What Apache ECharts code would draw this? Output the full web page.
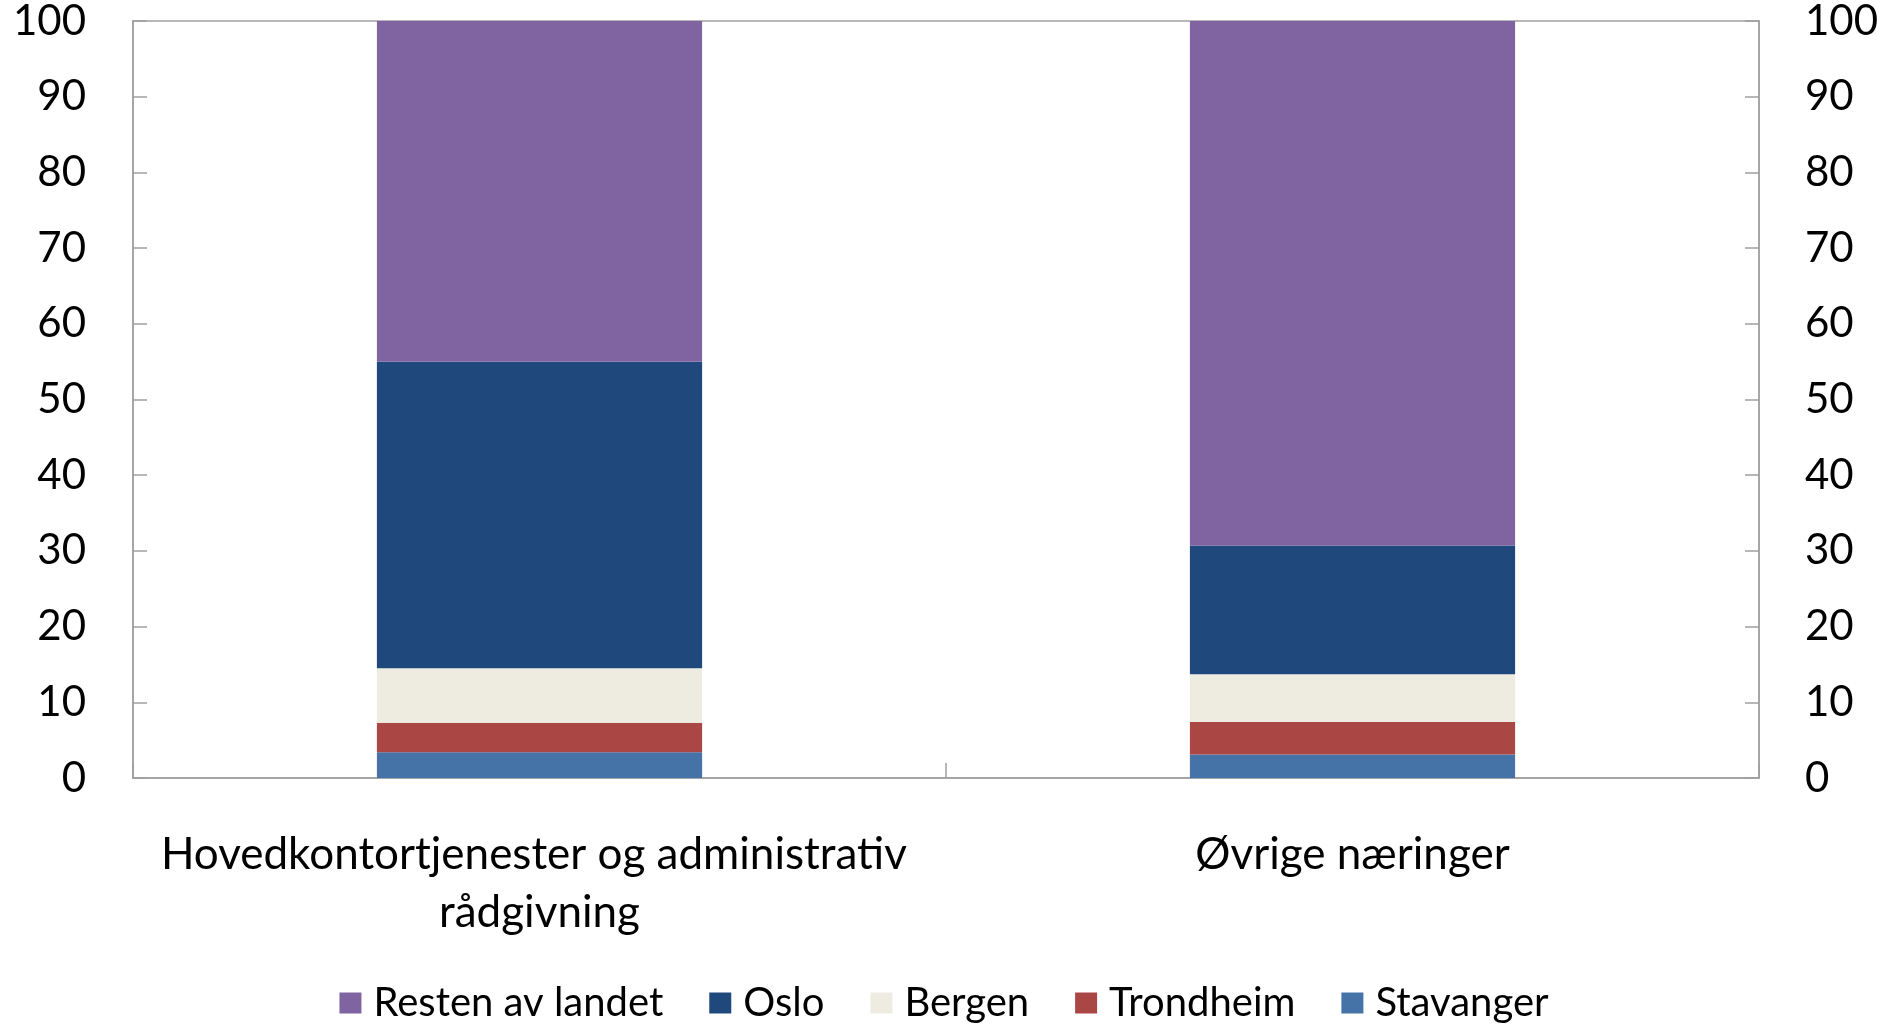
<!DOCTYPE html>
<html>
<head>
<meta charset="utf-8">
<script src="https://cdn.jsdelivr.net/npm/echarts@6/dist/echarts.min.js"></script>
<style>
  html, body { margin: 0; padding: 0; background: #ffffff; }
  #chart { width: 1888px; height: 1025px; }
</style>
</head>
<body>
<div id="chart"></div>
<script>
// categories and shares (percent)
const categories = ['Hovedkontortjenester og administrativ rådgivning', 'Øvrige næringer']
const stavanger = [3.4, 3.1]
const trondheim = [3.9, 4.3]
const bergen = [7.2, 6.3]
const oslo = [40.5, 17.0]
const restenAvLandet = [45.0, 69.3]
const legendOrder = ['Resten av landet', 'Oslo', 'Bergen', 'Trondheim', 'Stavanger']

const font = 'Lato'
const axisGrey = '#a0a0a0'

const chart = echarts.init(document.getElementById('chart'))

const makeSeries = (name, data, color) => ({
  name,
  type: 'bar',
  stack: 'total',
  barWidth: '40%',
  data,
  itemStyle: { color },
  emphasis: { disabled: true },
})

const yAxisBase = {
  type: 'value',
  min: 0,
  max: 100,
  interval: 10,
  splitLine: { show: false },
  axisLine: { show: true, lineStyle: { color: axisGrey, width: 1.5 } },
  axisTick: { show: true, inside: true, length: 14, lineStyle: { color: axisGrey, width: 1.5 } },
}

const option = {
  animation: false,
  backgroundColor: '#ffffff',
  textStyle: { fontFamily: font },
  grid: {
    left: 133,
    right: 129,
    top: 20,
    bottom: 247,
    show: true,
    borderColor: axisGrey,
    borderWidth: 1.5,
  },
  legend: {
    data: legendOrder,
    bottom: -3,
    left: 'center',
    padding: [5, 5, 5, 25],
    itemWidth: 22,
    itemHeight: 21,
    itemGap: 46,
    icon: 'rect',
    textStyle: { fontSize: 40, color: '#000', fontFamily: font, padding: [0, 0, 0, 7] },
  },
  xAxis: {
    type: 'category',
    data: categories,
    axisLine: { show: true, lineStyle: { color: axisGrey, width: 1.5 } },
    axisTick: { show: true, inside: true, length: 15, lineStyle: { color: axisGrey, width: 1.5 } },
    axisLabel: {
      interval: 0,
      margin: 48,
      fontSize: 44,
      color: '#000',
      lineHeight: 58,
      width: 790,
      overflow: 'break',
      fontFamily: font,
    },
  },
  yAxis: [
    {
      ...yAxisBase,
      position: 'left',
      axisLabel: { margin: 47, fontSize: 42, color: '#000', fontFamily: font, padding: [22, 0, 0, 0] },
    },
    {
      ...yAxisBase,
      position: 'right',
      axisLabel: { margin: 46, fontSize: 42, color: '#000', fontFamily: font, padding: [22, 0, 0, 0] },
    },
  ],
  series: [
    makeSeries('Stavanger', stavanger, '#4572a7'),
    makeSeries('Trondheim', trondheim, '#aa4643'),
    makeSeries('Bergen', bergen, '#eeece1'),
    makeSeries('Oslo', oslo, '#1f497d'),
    makeSeries('Resten av landet', restenAvLandet, '#8064a2'),
  ],
}

chart.setOption(option)
</script>
</body>
</html>
